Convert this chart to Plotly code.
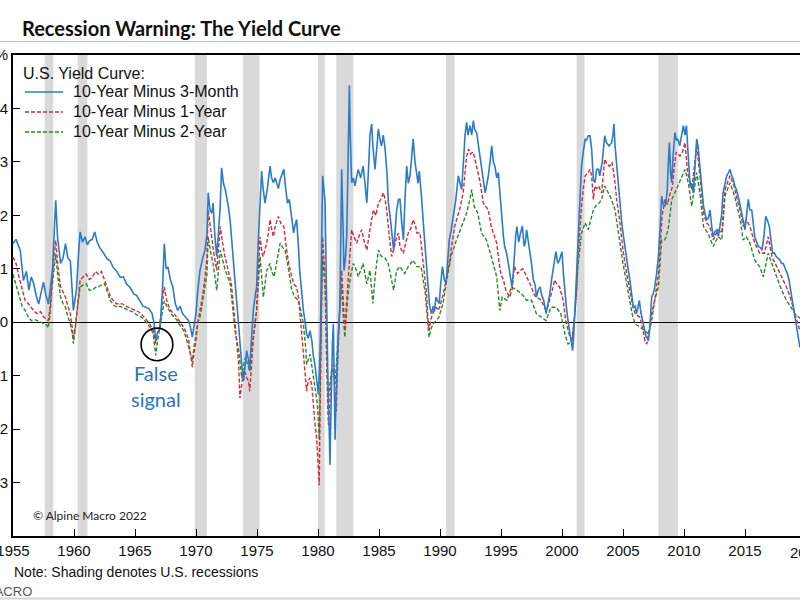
import plotly.graph_objects as go

# ---------------- data ----------------
m3_years = [1955.0,1955.25,1955.6,1955.85,1956.1,1956.3,1956.5,1956.7,1956.9,1957.1,1957.3,1957.5,1957.7,1957.9,1958.1,1958.25,1958.4,1958.5,1958.65,1958.9,
1959.1,1959.3,1959.5,1959.7,1959.95,1960.1,1960.2,1960.35,1960.5,1960.7,1960.9,1961.1,1961.3,1961.5,1961.7,1961.9,1962.1,1962.4,1962.7,1962.95,
1963.2,1963.5,1963.8,1964.05,1964.3,1964.6,1964.9,1965.15,1965.4,1965.65,1965.9,1966.15,1966.4,1966.55,1966.7,1966.85,1967.05,1967.25,1967.4,1967.55,
1967.7,1967.9,1968.1,1968.3,1968.5,1968.7,1968.9,1969.15,1969.4,1969.55,1969.7,1969.85,1970.0,1970.15,1970.33,1970.55,1970.74,1970.9,1971.0,1971.15,
1971.3,1971.4,1971.55,1971.7,1971.85,1971.97,1972.1,1972.25,1972.4,1972.55,1972.65,1972.8,1972.9,1973.05,1973.2,1973.35,1973.5,1973.65,1973.75,1973.9,
1974.0,1974.15,1974.3,1974.4,1974.55,1974.7,1974.85,1974.97,1975.1,1975.25,1975.38,1975.5,1975.66,1975.85,1976.07,1976.2,1976.34,1976.5,1976.6,1976.75,
1976.9,1977.05,1977.2,1977.35,1977.5,1977.65,1977.76,1977.9,1978.0,1978.1,1978.25,1978.4,1978.5,1978.65,1978.8,1978.95,1979.07,1979.2,1979.35,1979.5,
1979.6,1979.75,1979.9,1980.03,1980.12,1980.2,1980.3,1980.38,1980.48,1980.58,1980.65,1980.7,1980.78,1980.85,1980.92,1980.98,1981.05,1981.1,1981.18,1981.26,
1981.33,1981.4,1981.47,1981.53,1981.65,1981.8,1981.87,1981.94,1982.05,1982.13,1982.25,1982.35,1982.45,1982.52,1982.57,1982.63,1982.7,1982.76,1982.9,1983.03,
1983.15,1983.3,1983.5,1983.7,1983.85,1984.0,1984.15,1984.26,1984.4,1984.5,1984.67,1984.8,1984.95,1985.1,1985.2,1985.35,1985.5,1985.65,1985.77,1985.9,
1986.05,1986.2,1986.35,1986.45,1986.6,1986.72,1986.85,1987.0,1987.15,1987.27,1987.4,1987.54,1987.68,1987.8,1987.95,1988.1,1988.2,1988.3,1988.4,1988.5,
1988.65,1988.8,1988.9,1989.04,1989.15,1989.3,1989.45,1989.55,1989.67,1989.8,1989.94,1990.05,1990.2,1990.35,1990.5,1990.65,1990.76,1990.9,1991.1,1991.3,
1991.5,1991.65,1991.77,1991.95,1992.05,1992.18,1992.3,1992.46,1992.6,1992.73,1992.85,1993.0,1993.2,1993.4,1993.55,1993.7,1993.85,1993.96,1994.1,1994.24,
1994.37,1994.5,1994.65,1994.78,1994.92,1995.05,1995.2,1995.3,1995.45,1995.6,1995.75,1995.9,1996.0,1996.1,1996.2,1996.3,1996.45,1996.6,1996.75,1996.9,
1997.0,1997.1,1997.25,1997.4,1997.5,1997.65,1997.8,1997.9,1998.05,1998.2,1998.35,1998.5,1998.6,1998.7,1998.85,1999.0,1999.15,1999.3,1999.4,1999.5,
1999.65,1999.8,1999.9,2000.0,2000.12,2000.24,2000.35,2000.46,2000.55,2000.65,2000.75,2000.87,2000.95,2001.06,2001.2,2001.3,2001.45,2001.6,2001.75,2001.9,
2002.0,2002.15,2002.3,2002.43,2002.57,2002.7,2002.84,2003.0,2003.1,2003.3,2003.5,2003.65,2003.85,2004.07,2004.18,2004.26,2004.35,2004.48,2004.6,2004.75,
2004.88,2005.0,2005.15,2005.3,2005.45,2005.6,2005.75,2005.85,2006.0,2006.1,2006.2,2006.34,2006.45,2006.6,2006.75,2006.9,2007.0,2007.08,2007.2,2007.35,
2007.5,2007.6,2007.75,2007.9,2008.05,2008.17,2008.3,2008.44,2008.55,2008.63,2008.72,2008.8,2008.9,2008.99,2009.1,2009.26,2009.38,2009.5,2009.65,2009.8,
2009.95,2010.08,2010.2,2010.35,2010.5,2010.63,2010.76,2010.9,2011.04,2011.15,2011.3,2011.45,2011.6,2011.75,2011.86,2012.0,2012.13,2012.27,2012.4,2012.55,
2012.7,2012.82,2012.95,2013.08,2013.2,2013.35,2013.5,2013.65,2013.77,2013.9,2014.04,2014.17,2014.3,2014.5,2014.7,2014.85,2015.0,2015.15,2015.27,2015.4,
2015.55,2015.7,2015.8,2015.95,2016.1,2016.25,2016.4,2016.55,2016.7,2016.85,2017.0,2017.15,2017.27,2017.4,2017.55,2017.7,2017.87,2018.0,2018.14,2018.3,
2018.47,2018.6,2018.7,2018.85,2018.96,2019.1,2019.23,2019.35,2019.5,2019.6]
m3_vals = [1.47,1.55,1.34,0.78,0.95,0.6,0.85,0.72,0.5,0.34,0.55,0.75,0.5,0.34,0.7,1.03,1.8,2.28,1.6,1.1,
1.2,1.47,1.2,1.15,0.22,0.45,0.6,1.2,1.69,1.5,1.6,1.45,1.53,1.55,1.69,1.5,1.4,1.3,1.19,1.15,
1.03,0.95,0.84,0.85,0.72,0.65,0.53,0.5,0.4,0.3,0.28,0.25,0.16,0.0,-0.34,-0.2,-0.1,0.6,1.47,1.0,
1.03,0.8,0.66,0.35,0.22,0.3,0.16,0.1,0.03,-0.1,-0.28,-0.05,0.16,0.6,0.97,1.2,1.35,1.66,2.42,2.1,
2.04,2.23,1.6,1.23,1.8,2.1,2.89,2.6,2.48,2.3,2.17,1.9,1.6,1.2,0.85,0.3,-0.16,-0.5,-0.79,-1.1,
-0.8,-0.53,-0.7,-0.91,-0.3,0.22,0.5,0.66,1.5,2.23,2.83,2.5,2.23,2.5,2.92,2.7,2.61,2.7,2.61,2.5,
2.67,2.75,2.86,2.5,2.23,2.3,2.1,1.8,1.67,1.8,1.92,1.4,0.97,0.6,0.22,0.0,-0.22,-0.3,-0.16,-0.35,
-0.6,-0.8,-1.1,-1.35,-0.9,-0.28,1.5,2.74,2.5,2.23,1.2,0.35,-0.6,-1.54,-2.0,-2.67,-1.8,-0.91,-0.4,-0.03,
-1.2,-2.2,-1.5,-0.91,-0.3,0.35,1.5,2.86,1.8,0.97,1.2,1.6,2.8,3.8,4.43,3.6,2.9,2.61,2.7,2.55,
2.7,2.86,2.7,2.92,2.6,2.23,2.9,3.5,3.71,3.3,2.86,3.2,3.62,3.4,3.3,3.5,3.24,2.8,2.23,2.0,
1.6,1.35,1.8,2.1,2.3,2.3,1.9,1.54,2.4,2.92,2.6,2.74,3.1,3.43,3.0,2.74,2.6,2.83,2.6,2.3,
1.8,1.35,1.0,0.6,0.3,0.16,0.3,0.2,0.47,0.4,0.35,0.7,1.04,0.8,0.72,1.2,1.54,1.7,1.98,2.3,
2.74,2.6,2.48,3.1,3.5,3.74,3.5,3.68,3.5,3.77,3.6,3.55,3.2,2.86,2.6,2.42,2.6,2.74,3.0,3.3,
3.0,2.92,2.7,2.8,2.4,1.98,1.6,1.42,1.3,1.1,0.9,0.66,0.9,1.35,1.6,1.79,1.5,1.67,1.8,1.42,
1.5,1.73,1.5,1.23,1.1,0.79,0.7,0.47,0.6,0.66,0.5,0.41,0.3,0.16,0.35,0.53,0.8,1.04,1.2,1.32,
1.1,1.16,1.25,1.32,0.9,0.53,0.3,0.09,-0.1,-0.22,-0.35,-0.53,-0.3,0.28,0.9,1.54,2.2,2.92,3.2,3.43,
3.4,3.49,3.49,3.24,2.67,2.61,2.86,2.86,2.74,3.0,3.49,3.36,3.3,3.36,3.5,3.71,3.3,2.92,2.6,2.23,
1.9,1.67,1.4,1.16,0.95,0.72,0.5,0.28,0.3,0.16,0.25,0.41,0.2,0.03,-0.15,-0.28,-0.3,-0.35,-0.1,0.47,
0.55,0.66,0.9,1.23,1.8,2.36,2.2,2.17,2.3,2.48,3.0,3.36,2.8,2.61,3.1,3.55,3.4,3.43,3.3,3.5,
3.68,3.5,3.68,3.1,2.55,2.6,2.42,2.9,3.43,3.3,2.92,2.5,2.17,2.0,1.92,1.95,2.1,1.8,1.6,1.7,
1.73,1.6,1.79,2.0,2.42,2.6,2.74,2.8,2.86,2.75,2.67,2.55,2.48,2.3,2.1,1.9,1.73,2.0,2.3,2.1,
2.1,1.8,1.6,1.5,1.42,1.4,1.35,1.6,1.98,1.9,1.79,1.5,1.29,1.3,1.23,1.2,1.16,1.1,1.1,1.0,
0.91,0.8,0.66,0.45,0.28,0.1,-0.09,-0.2,-0.47,-0.45]

y1_years = [1955.0,1955.25,1955.5,1955.75,1956.0,1956.25,1956.5,1956.75,1957.0,1957.25,1957.5,1957.75,1957.9,1958.05,1958.2,1958.35,1958.5,1958.7,1958.9,1959.1,
1959.3,1959.5,1959.7,1959.85,1959.95,1960.1,1960.2,1960.35,1960.5,1960.75,1961.0,1961.25,1961.5,1961.75,1962.0,1962.25,1962.5,1962.75,1963.0,1963.25,
1963.5,1963.75,1964.0,1964.25,1964.5,1964.75,1965.0,1965.25,1965.5,1965.75,1966.0,1966.25,1966.5,1966.6,1966.7,1966.85,1967.0,1967.2,1967.4,1967.6,
1967.8,1968.0,1968.2,1968.4,1968.6,1968.8,1969.0,1969.2,1969.4,1969.55,1969.7,1969.85,1970.0,1970.15,1970.33,1970.55,1970.74,1970.9,1971.0,1971.15,
1971.3,1971.45,1971.6,1971.7,1971.85,1972.0,1972.1,1972.2,1972.35,1972.5,1972.7,1972.9,1973.05,1973.2,1973.35,1973.5,1973.6,1973.75,1973.9,1974.05,
1974.15,1974.3,1974.4,1974.55,1974.7,1974.85,1974.97,1975.1,1975.25,1975.4,1975.5,1975.65,1975.8,1975.95,1976.07,1976.2,1976.34,1976.5,1976.75,1976.95,
1977.2,1977.4,1977.6,1977.8,1978.0,1978.25,1978.4,1978.5,1978.65,1978.8,1978.95,1979.07,1979.2,1979.35,1979.5,1979.6,1979.75,1979.9,1980.0,1980.1,
1980.15,1980.2,1980.3,1980.38,1980.48,1980.58,1980.65,1980.7,1980.78,1980.85,1980.92,1980.98,1981.1,1981.26,1981.38,1981.5,1981.58,1981.67,1981.8,1981.94,
1982.05,1982.2,1982.35,1982.5,1982.65,1982.76,1982.95,1983.17,1983.35,1983.58,1983.8,1984.0,1984.26,1984.54,1984.75,1984.95,1985.15,1985.36,1985.5,1985.63,
1985.85,1986.04,1986.25,1986.45,1986.6,1986.72,1986.85,1987.0,1987.2,1987.4,1987.6,1987.8,1988.0,1988.1,1988.36,1988.5,1988.65,1988.9,1989.0,1989.1,
1989.25,1989.4,1989.7,1989.85,1990.0,1990.27,1990.5,1990.8,1991.0,1991.2,1991.4,1991.6,1991.9,1992.05,1992.18,1992.35,1992.5,1992.73,1992.9,1993.1,
1993.3,1993.55,1993.8,1993.96,1994.2,1994.45,1994.65,1994.85,1995.0,1995.2,1995.4,1995.7,1995.9,1996.1,1996.35,1996.6,1996.8,1997.1,1997.3,1997.5,
1997.75,1997.95,1998.3,1998.5,1998.7,1998.85,1999.0,1999.2,1999.4,1999.6,1999.8,2000.1,2000.3,2000.5,2000.65,2000.85,2001.06,2001.2,2001.3,2001.45,
2001.6,2001.75,2001.9,2002.15,2002.3,2002.43,2002.57,2002.7,2002.85,2003.0,2003.25,2003.5,2003.7,2003.9,2004.1,2004.3,2004.48,2004.75,2005.0,2005.3,
2005.6,2005.8,2006.0,2006.25,2006.4,2006.6,2006.8,2006.95,2007.1,2007.35,2007.6,2007.9,2008.1,2008.2,2008.44,2008.65,2008.8,2009.07,2009.2,2009.35,
2009.67,2009.9,2010.08,2010.3,2010.63,2010.85,2011.04,2011.3,2011.6,2011.85,2012.1,2012.4,2012.8,2013.1,2013.36,2013.77,2014.1,2014.35,2014.6,2014.85,
2015.1,2015.4,2015.8,2016.2,2016.6,2016.9,2017.2,2017.6,2018.0,2018.4,2018.7,2019.0,2019.25,2019.5,2019.6]
y1_vals = [1.22,1.1,0.84,0.6,0.4,0.35,0.28,0.2,0.16,0.2,0.1,0.05,0.03,0.3,0.78,1.2,1.53,1.0,0.66,0.55,
0.47,0.3,0.16,-0.1,-0.28,-0.1,0.16,0.5,0.78,0.85,0.9,0.8,0.84,0.95,0.9,0.95,0.78,0.6,0.47,0.4,
0.34,0.35,0.34,0.3,0.28,0.25,0.22,0.2,0.16,0.1,0.03,-0.05,-0.16,-0.3,-0.4,-0.2,-0.1,0.3,0.66,0.4,
0.28,0.2,0.16,0.1,0.03,-0.05,-0.1,-0.2,-0.34,-0.6,-0.84,-0.55,-0.34,0.0,0.22,0.5,0.85,1.2,2.1,1.8,
1.48,1.3,1.1,0.97,1.4,1.79,1.6,1.42,1.25,1.1,0.9,0.72,0.35,-0.03,-0.4,-0.79,-1.42,-1.1,-0.91,-0.95,
-1.04,-1.1,-1.29,-0.8,-0.28,0.0,0.22,0.9,1.6,1.3,1.23,1.35,1.48,1.7,1.92,1.75,1.6,1.8,1.98,1.85,
1.79,1.4,1.1,0.9,0.72,0.66,0.45,0.22,-0.2,-0.6,-1.0,-1.29,-1.1,-1.04,-1.2,-1.54,-1.9,-2.2,-2.6,-3.05,
-2.0,-0.91,0.5,1.6,1.2,0.85,0.0,-0.91,-1.5,-1.92,-1.6,-1.29,-1.0,-0.79,-1.3,-1.67,-1.0,-0.28,0.4,0.97,
0.4,-0.16,0.4,0.97,1.4,1.73,1.6,1.48,1.6,1.73,1.5,1.35,1.73,2.1,2.0,2.23,2.3,2.42,2.3,2.1,
1.6,1.23,1.4,1.6,1.67,1.42,1.35,1.29,1.5,1.67,1.75,1.92,1.8,1.67,1.67,1.35,1.1,0.53,0.1,-0.16,
0.05,0.16,0.28,0.22,0.3,0.53,0.79,1.16,1.5,1.79,1.95,2.1,2.42,2.8,3.11,3.24,3.15,3.18,2.99,2.8,
2.61,2.23,2.15,2.1,1.79,1.6,1.48,1.1,0.9,0.79,0.6,0.47,0.6,1.04,0.91,0.97,1.0,0.85,0.75,0.66,
0.5,0.47,0.41,0.3,0.22,0.3,0.41,0.6,0.79,0.7,0.66,0.41,0.03,-0.15,-0.28,-0.35,0.16,0.6,1.16,1.7,
2.17,2.5,2.74,2.8,2.86,2.74,2.3,2.55,2.5,2.55,2.42,3.05,2.95,2.92,2.99,2.7,2.3,1.86,1.35,0.91,
0.53,0.3,0.16,0.12,0.09,-0.1,-0.35,-0.41,-0.2,0.16,0.41,0.91,1.6,1.98,2.3,2.2,2.36,2.55,2.9,3.18,
3.11,3.2,3.36,2.8,2.48,2.9,3.3,2.74,2.04,1.86,1.8,1.54,1.73,1.67,2.48,2.74,2.55,2.3,2.1,1.79,
1.92,1.79,1.48,1.29,1.29,1.6,1.23,1.04,0.85,0.66,0.47,0.22,0.03,-0.16,-0.2]

y2_years = [1955.0,1955.25,1955.5,1955.75,1956.0,1956.25,1956.5,1956.75,1957.0,1957.25,1957.5,1957.75,1957.9,1958.05,1958.2,1958.35,1958.5,1958.7,1958.9,1959.1,
1959.3,1959.5,1959.7,1959.85,1959.95,1960.1,1960.2,1960.35,1960.5,1960.75,1961.0,1961.25,1961.5,1961.75,1962.0,1962.25,1962.5,1962.75,1963.0,1963.25,
1963.5,1963.75,1964.0,1964.25,1964.5,1964.75,1965.0,1965.25,1965.5,1965.75,1966.0,1966.25,1966.5,1966.6,1966.7,1966.85,1967.0,1967.2,1967.4,1967.6,
1967.8,1968.0,1968.2,1968.4,1968.6,1968.8,1969.0,1969.2,1969.4,1969.55,1969.7,1969.85,1970.0,1970.15,1970.33,1970.55,1970.74,1970.9,1971.0,1971.2,
1971.4,1971.55,1971.7,1971.85,1972.0,1972.2,1972.4,1972.6,1972.8,1973.0,1973.2,1973.5,1973.75,1973.9,1974.05,1974.25,1974.4,1974.55,1974.7,1974.85,
1974.97,1975.1,1975.25,1975.4,1975.52,1975.65,1975.8,1976.07,1976.2,1976.4,1976.65,1976.9,1977.1,1977.3,1977.6,1977.85,1978.1,1978.4,1978.6,1978.8,
1979.0,1979.07,1979.35,1979.6,1979.8,1979.95,1980.1,1980.15,1980.2,1980.3,1980.38,1980.48,1980.58,1980.65,1980.7,1980.85,1980.95,1981.1,1981.26,1981.4,
1981.5,1981.67,1981.8,1981.94,1982.05,1982.2,1982.35,1982.5,1982.7,1982.9,1983.1,1983.3,1983.55,1983.7,1983.85,1984.0,1984.26,1984.5,1984.7,1984.95,
1985.2,1985.5,1985.75,1986.0,1986.2,1986.45,1986.72,1987.1,1987.4,1987.8,1988.1,1988.45,1988.6,1988.8,1988.95,1989.1,1989.3,1989.45,1989.9,1990.25,
1990.55,1990.9,1991.35,1991.75,1992.18,1992.45,1992.6,1992.8,1993.1,1993.4,1993.8,1994.2,1994.65,1994.9,1995.1,1995.5,1995.85,1996.3,1996.7,1997.1,
1997.5,1997.9,1998.3,1998.7,1999.1,1999.5,1999.9,2000.24,2000.5,2000.8,2001.06,2001.3,2001.6,2001.9,2002.15,2002.3,2002.57,2002.85,2003.05,2003.25,
2003.5,2003.8,2004.05,2004.35,2004.7,2005.0,2005.3,2005.55,2005.8,2006.0,2006.4,2006.8,2007.1,2007.35,2007.6,2007.9,2008.17,2008.44,2008.7,2009.0,
2009.25,2009.5,2009.8,2010.08,2010.35,2010.63,2010.85,2011.04,2011.3,2011.6,2011.95,2012.4,2012.8,2013.1,2013.36,2013.77,2014.15,2014.6,2014.85,2015.1,
2015.4,2015.8,2016.2,2016.5,2016.9,2017.2,2017.6,2018.0,2018.4,2018.8,2019.1,2019.4,2019.6]
y2_vals = [0.9,0.7,0.47,0.3,0.22,0.1,0.03,0.05,0.03,0.0,-0.03,-0.05,-0.1,0.2,0.66,1.0,1.28,0.8,0.47,0.35,
0.28,0.1,-0.03,-0.2,-0.4,-0.15,0.1,0.4,0.66,0.7,0.72,0.6,0.6,0.65,0.66,0.7,0.72,0.55,0.4,0.32,
0.28,0.3,0.28,0.25,0.22,0.2,0.16,0.12,0.1,0.05,-0.03,-0.1,-0.22,-0.4,-0.62,-0.35,-0.16,0.1,0.4,0.3,
0.22,0.15,0.1,0.05,-0.03,-0.1,-0.16,-0.3,-0.47,-0.6,-0.72,-0.45,-0.22,0.0,0.1,0.4,0.66,0.9,1.6,1.3,
1.1,0.85,0.6,1.0,1.35,1.15,0.97,0.85,0.72,0.3,-0.16,-0.53,-1.04,-0.8,-0.66,-0.8,-0.91,-0.6,-0.28,0.0,
0.22,0.7,1.23,0.8,0.47,0.7,0.97,1.1,0.95,0.85,1.2,1.48,1.4,1.35,0.97,0.6,0.47,0.41,0.2,-0.03,
-0.5,-0.79,-0.6,-1.04,-1.3,-1.54,-2.2,-1.5,-0.6,0.4,1.23,0.9,0.66,0.0,-0.72,-1.42,-1.2,-0.91,-0.9,-1.16,
-0.8,-0.16,0.3,0.72,0.2,-0.28,0.2,0.6,0.9,1.1,1.0,0.85,1.0,1.1,0.9,0.72,0.97,0.35,0.9,1.35,
1.23,1.2,1.1,0.8,0.6,0.97,1.04,0.91,1.04,1.16,1.04,1.04,0.85,0.53,0.1,-0.28,-0.1,-0.03,0.09,0.35,
0.79,1.23,1.54,1.79,2.04,2.3,2.48,2.17,2.04,1.67,1.54,1.23,0.85,0.22,0.47,0.41,0.66,0.6,0.53,0.41,
0.41,0.16,0.09,0.03,0.28,0.28,0.16,-0.22,-0.41,-0.35,0.16,1.04,1.67,1.86,1.73,1.86,2.1,2.2,2.23,2.3,
2.55,2.42,2.3,2.1,1.54,1.1,0.72,0.41,0.1,-0.03,-0.09,-0.16,-0.22,0.03,0.41,0.66,1.54,1.54,1.73,2.3,
2.42,2.55,2.7,2.86,2.61,2.17,2.5,2.8,2.42,1.79,1.67,1.42,1.6,1.54,2.36,2.61,2.36,1.92,1.54,1.6,
1.48,1.16,1.04,0.85,1.29,1.1,0.85,0.6,0.41,0.28,0.16,0.1,0.05]

series_names = ["10-Year Minus 3-Month", "10-Year Minus 1-Year", "10-Year Minus 2-Year"]
recession_starts = [1957.6, 1960.3, 1969.9, 1973.85, 1980.0, 1981.5, 1990.5, 2001.2, 2007.9]
recession_ends = [1958.3, 1961.1, 1970.9, 1975.2, 1980.55, 1982.9, 1991.2, 2001.85, 2009.5]
x_tick_years = [1955, 1960, 1965, 1970, 1975, 1980, 1985, 1990, 1995, 2000, 2005, 2010, 2015]
y_tick_vals = [5, 4, 3, 2, 1, 0, -1, -2, -3]
y_tick_text = ["%", "4", "3", "2", "1", "0", "-1", "-2", "-3"]

# ---------------- styling / layout ----------------
W, H = 800, 600
ML, MR, MT, MB = 13, 0, 55, 64
PW, PH = W - ML - MR, H - MT - MB
X0, X1 = 1955.0, 1955.0 + PW / 12.2
Y0, Y1 = -4, 5

def px(xp):
    return (xp - ML) / PW

def py(yp):
    return (H - MB - yp) / PH

BLUE, RED, GREEN = "#2b7bc9", "#d22b3b", "#2a8a2a"
ARIAL = "Liberation Sans, Arial, sans-serif"
CAL = "Lato, Carlito, Calibri, sans-serif"

fig = go.Figure()
fig.add_trace(go.Scatter(x=y2_years, y=y2_vals, mode="lines", name=series_names[2],
                         line=dict(color=GREEN, width=1.4, dash="4px,2px")))
fig.add_trace(go.Scatter(x=y1_years, y=y1_vals, mode="lines", name=series_names[1],
                         line=dict(color=RED, width=1.4, dash="4px,2px")))
fig.add_trace(go.Scatter(x=m3_years, y=m3_vals, mode="lines", name=series_names[0],
                         line=dict(color=BLUE, width=1.6)))

shapes = []
for s, e in zip(recession_starts, recession_ends):
    shapes.append(dict(type="rect", xref="x", yref="paper", x0=s, x1=e, y0=0, y1=1,
                       fillcolor="#d9d9d9", line=dict(width=0), layer="below"))
# false-signal circle
shapes.append(dict(type="circle", xref="x", yref="y", x0=1965.5, x1=1968.1, y0=-0.72, y1=-0.11,
                   line=dict(color="black", width=1.6)))
# rule under the title, rule at the bottom
shapes.append(dict(type="line", xref="paper", yref="paper", x0=px(0), x1=px(W), y0=py(41.5), y1=py(41.5),
                   line=dict(color="#a9c4d4", width=1.2)))
shapes.append(dict(type="line", xref="paper", yref="paper", x0=px(0), x1=px(W), y0=py(598.5), y1=py(598.5),
                   line=dict(color="#d4d4d4", width=2)))
# manual legend samples
legend_rows = [92, 112, 132]
legend_styles = [(BLUE, "solid", 1.6), (RED, "4px,2px", 1.4), (GREEN, "4px,2px", 1.4)]
for yy, (c, d, w) in zip(legend_rows, legend_styles):
    shapes.append(dict(type="line", xref="paper", yref="paper", x0=px(25), x1=px(63), y0=py(yy), y1=py(yy),
                       line=dict(color=c, width=w, dash=d)))

ann = []
ann.append(dict(text="<b>Recession Warning: The Yield Curve</b>", x=px(20), y=py(28), xref="paper", yref="paper",
                xanchor="left", yanchor="middle", showarrow=False, font=dict(family=CAL, size=20, color="#111")))
ann.append(dict(text="U.S. Yield Curve:", x=px(21), y=py(73), xref="paper", yref="paper",
                xanchor="left", yanchor="middle", showarrow=False, font=dict(family=ARIAL, size=16, color="#111")))
for yy, name in zip(legend_rows, series_names):
    ann.append(dict(text=name, x=px(71), y=py(yy), xref="paper", yref="paper",
                    xanchor="left", yanchor="middle", showarrow=False, font=dict(family=ARIAL, size=16, color="#111")))
ann.append(dict(text="© Alpine Macro 2022", x=px(31), y=py(515), xref="paper", yref="paper",
                xanchor="left", yanchor="middle", showarrow=False, font=dict(family=CAL, size=12, color="#222")))
ann.append(dict(text="False<br>signal", x=px(156), y=py(386), xref="paper", yref="paper",
                xanchor="center", yanchor="middle", showarrow=False, align="center",
                font=dict(family=CAL, size=20, color="#2e75b6")))
ann.append(dict(text="Note: Shading denotes U.S. recessions", x=px(12), y=py(572), xref="paper", yref="paper",
                xanchor="left", yanchor="middle", showarrow=False, font=dict(family=ARIAL, size=14, color="#111")))
ann.append(dict(text="ALPINE MACRO", x=px(34), y=py(591), xref="paper", yref="paper",
                xanchor="right", yanchor="middle", showarrow=False, font=dict(family=ARIAL, size=13, color="#555")))
ann.append(dict(text="2020", x=(2020 - X0) / (X1 - X0), y=py(552), xref="paper", yref="paper",
                xanchor="center", yanchor="middle", showarrow=False, font=dict(family=ARIAL, size=15, color="#111")))

fig.update_layout(
    width=W, height=H,
    margin=dict(l=ML, r=MR, t=MT, b=MB, pad=0),
    paper_bgcolor="white", plot_bgcolor="white",
    showlegend=False,
    shapes=shapes, annotations=ann,
    xaxis=dict(range=[X0, X1], tickvals=x_tick_years, ticks="inside", ticklen=7, tickwidth=1.2,
               tickcolor="black", showline=True, linecolor="black", linewidth=1.6, mirror=True,
               showgrid=False, zeroline=False, tickfont=dict(family=ARIAL, size=15, color="#111"),
               automargin=False, ticklabeloverflow="allow"),
    yaxis=dict(range=[Y0, Y1], tickvals=y_tick_vals, ticktext=y_tick_text, ticks="inside", ticklen=7,
               tickwidth=1.2, tickcolor="black", showline=True, linecolor="black", linewidth=1.6,
               showgrid=False, zeroline=True, zerolinecolor="black", zerolinewidth=1,
               tickfont=dict(family=ARIAL, size=15, color="#111"), automargin=False,
               ticklabeloverflow="allow"),
)

fig.write_html("out.html", config={"displayModeBar": False},
               post_script="document.body.style.margin='0';document.body.style.padding='0';"
                           "document.body.style.overflow='hidden';")
